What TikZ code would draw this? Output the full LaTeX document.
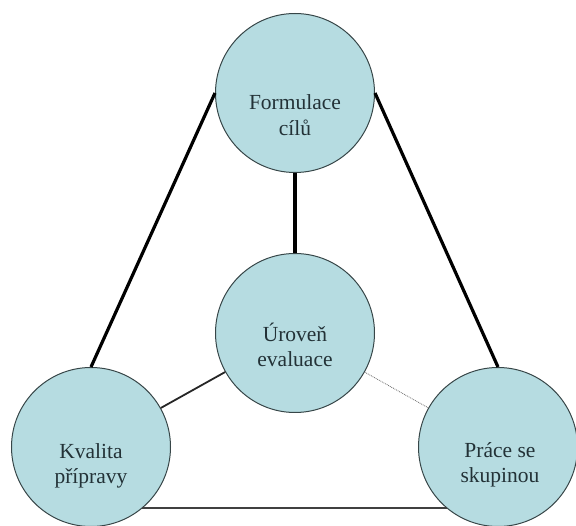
\documentclass[tikz,border=0pt]{standalone}
\usepackage{fontspec}
\setmainfont{Liberation Serif}
\definecolor{cfill}{RGB}{182,220,225}
\definecolor{cedge}{RGB}{55,70,72}
\definecolor{ctext}{RGB}{35,50,55}
\begin{document}
\begin{tikzpicture}[x=1pt,y=-1pt,
  bubble/.style={circle,draw=cedge,line width=1pt,fill=cfill,minimum size=159pt,inner sep=0pt},
  lbl/.style={text=ctext,align=center,font=\fontsize{21.5}{25.5}\selectfont,inner sep=0pt},
  thickline/.style={line width=3.2pt,black},
  midline/.style={line width=1.8pt,black!85},
  baseline/.style={line width=2.2pt,black!75},
  faintline/.style={line width=0.8pt,black!60,densely dotted}]
\useasboundingbox (0,0) rectangle (576,526);
\node[bubble] (top) at (295,93) {};
\node[bubble] (mid) at (295,333) {};
\node[bubble] (left) at (91,447) {};
\node[bubble] (right) at (498,447) {};
\node[lbl] (ttop) at (295,115) {Formulace\\cílů};
\node[lbl] (tmid) at (295,345) {Úroveň\\evaluace};
\node[lbl] (tleft) at (91,466) {Kvalita\\přípravy};
\node[lbl] (tright) at (500,465) {Práce se\\skupinou};
\draw[thickline] (top.180) -- (left.90);
\draw[thickline] (top.0) -- (right.90);
\draw[thickline] (top.south) -- (mid.north);
\draw[midline] (mid) -- (left);
\draw[faintline] (mid) -- (right);
\draw[baseline] (left.-50) -- (right.-130);
\end{tikzpicture}
\end{document}
